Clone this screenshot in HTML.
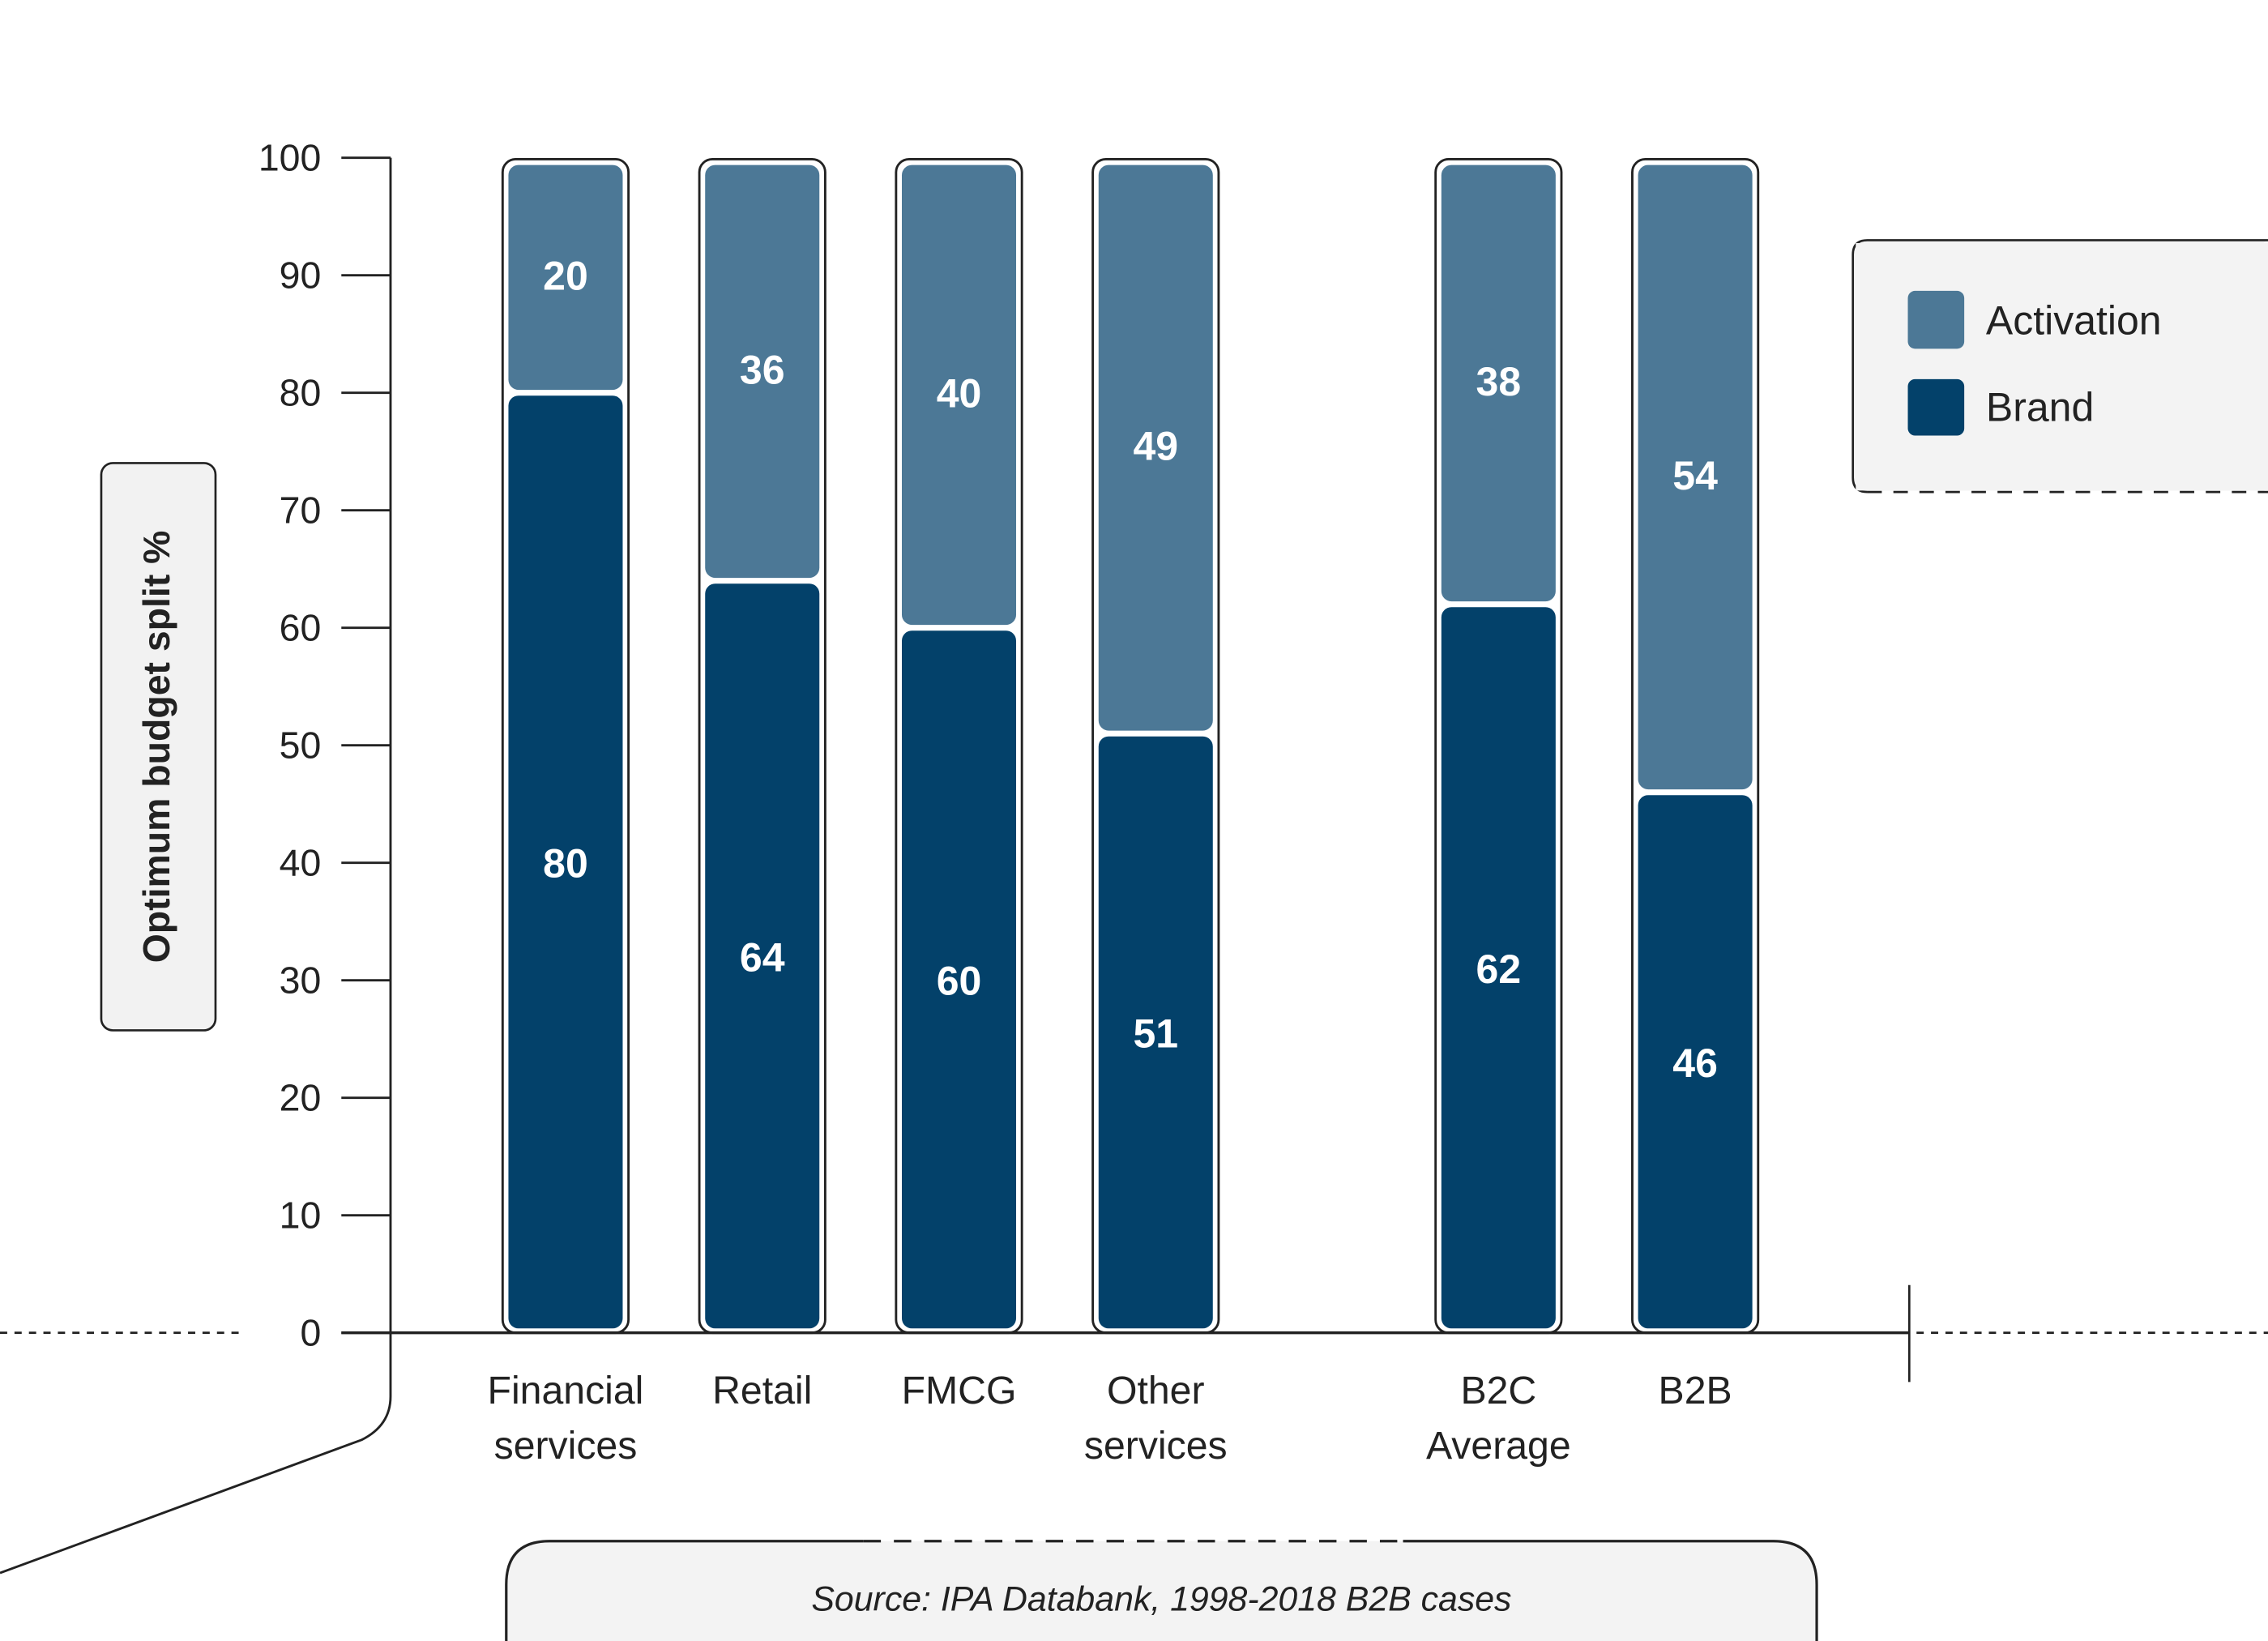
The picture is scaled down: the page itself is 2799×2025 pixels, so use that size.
<!DOCTYPE html>
<html><head><meta charset="utf-8"><style>
html,body{margin:0;padding:0;background:#fff;}
svg{display:block;font-family:"Liberation Sans",sans-serif;}
</style></head><body>
<svg id="chart" width="2799" height="2025" viewBox="0 0 1568 1134" preserveAspectRatio="none">
<g id="yaxis"></g>
<g id="bars"></g>
<g id="xlabels"></g>
<path d="M270,109 V965 Q270,985 250,995 L0,1087" fill="none" stroke="#222" stroke-width="1.6"/>
<line x1="236" y1="921" x2="1320" y2="921" stroke="#222" stroke-width="2"/>
<line x1="0" y1="921" x2="165" y2="921" stroke="#222" stroke-width="1.5" stroke-dasharray="5,5"/>
<line x1="1325" y1="921" x2="1568" y2="921" stroke="#222" stroke-width="1.5" stroke-dasharray="5,5"/>
<line x1="1320" y1="888" x2="1320" y2="955" stroke="#222" stroke-width="1.5"/>
<g>
<rect x="70" y="320" width="79" height="392" rx="8" fill="#f2f2f2" stroke="#222" stroke-width="1.5"/>
<text transform="translate(117,516) rotate(-90)" text-anchor="middle" font-size="26" font-weight="bold" fill="#222">Optimum budget split %</text>
</g>
<g>
<path d="M1568,166 H1291 Q1281,166 1281,176 V330 Q1281,340 1291,340" fill="#f3f3f3" stroke="#222" stroke-width="1.5"/>
<rect x="1283" y="168" width="285" height="171" fill="#f3f3f3"/>
<line x1="1291" y1="340" x2="1568" y2="340" stroke="#222" stroke-width="1.5" stroke-dasharray="10,8"/>
<rect x="1319" y="201" width="39" height="40" rx="5" fill="#4c7896"/>
<text x="1373" y="231" font-size="28" fill="#222">Activation</text>
<rect x="1319" y="262" width="39" height="39" rx="5" fill="#03416a"/>
<text x="1373" y="291" font-size="28" fill="#222">Brand</text>
</g>
<g>
<path d="M350,1134 V1095 Q350,1065 380,1065 H1226 Q1256,1065 1256,1095 V1134 Z" fill="#f3f3f3"/>
<path d="M350,1134 V1095 Q350,1065 380,1065 H597 M970,1065 H1226 Q1256,1065 1256,1095 V1134" fill="none" stroke="#222" stroke-width="1.8"/>
<line x1="597" y1="1065" x2="970" y2="1065" stroke="#222" stroke-width="1.8" stroke-dasharray="12,9"/>
<text x="803" y="1113" text-anchor="middle" font-size="24" font-style="italic" fill="#222">Source: IPA Databank, 1998-2018 B2B cases</text>
</g>
<script>
const categories=[["Financial","services"],["Retail"],["FMCG"],["Other","services"],["B2C","Average"],["B2B"]];
const brand=[80,64,60,51,62,46];
const activation=[20,36,40,49,38,54];
const yTicks=[0,10,20,30,40,50,60,70,80,90,100];
const centers=[391,527,663,799,1036,1172];
const NS="http://www.w3.org/2000/svg";
function y(v){return 921-v*8.12;}
function mk(t,a,p){const e=document.createElementNS(NS,t);for(const k in a)e.setAttribute(k,a[k]);p.appendChild(e);return e;}
const ya=document.getElementById('yaxis');
yTicks.forEach(v=>{
 const l=mk('line',{x1:236,x2:270,y1:y(v),y2:y(v),stroke:'#222','stroke-width':1.6},ya);
 
 
 const t=mk('text',{x:222,y:y(v)+9,'text-anchor':'end','font-size':26,fill:'#222'},ya);
 t.textContent=v;
 
 
});
const bg=document.getElementById('bars');
const xl=document.getElementById('xlabels');
const W=87;
categories.forEach((c,i)=>{
 const cx=centers[i],x0=cx-W/2;
 const total=brand[i]+activation[i];
 const o=mk('rect',{x:x0,y:y(total)+1,width:W,height:y(0)-y(total)-1,rx:9,fill:'#fff',stroke:'#222','stroke-width':1.6},bg);
 
 
 const b=mk('rect',{x:x0+4,y:y(brand[i])+2,width:W-8,height:y(0)-y(brand[i])-5,rx:7,fill:'#03416a'},bg);
 
 
 const a=mk('rect',{x:x0+4,y:y(total)+5,width:W-8,height:y(brand[i])-y(total)-7,rx:7,fill:'#4c7896'},bg);
 
 
 const bt=mk('text',{x:cx,y:(y(brand[i])+y(0))/2+10,'text-anchor':'middle','font-size':28,'font-weight':'bold',fill:'#fff'},bg);
 bt.textContent=brand[i];
 
 
 const at=mk('text',{x:cx,y:(y(total)+y(brand[i]))/2+10,'text-anchor':'middle','font-size':28,'font-weight':'bold',fill:'#fff'},bg);
 at.textContent=activation[i];
 
 
 c.forEach((line,j)=>{
  const t=mk('text',{x:cx,y:970+j*38,'text-anchor':'middle','font-size':27,fill:'#222'},xl);
  t.textContent=line;
  
  
 });
});
</script>
</svg>
</body></html>
